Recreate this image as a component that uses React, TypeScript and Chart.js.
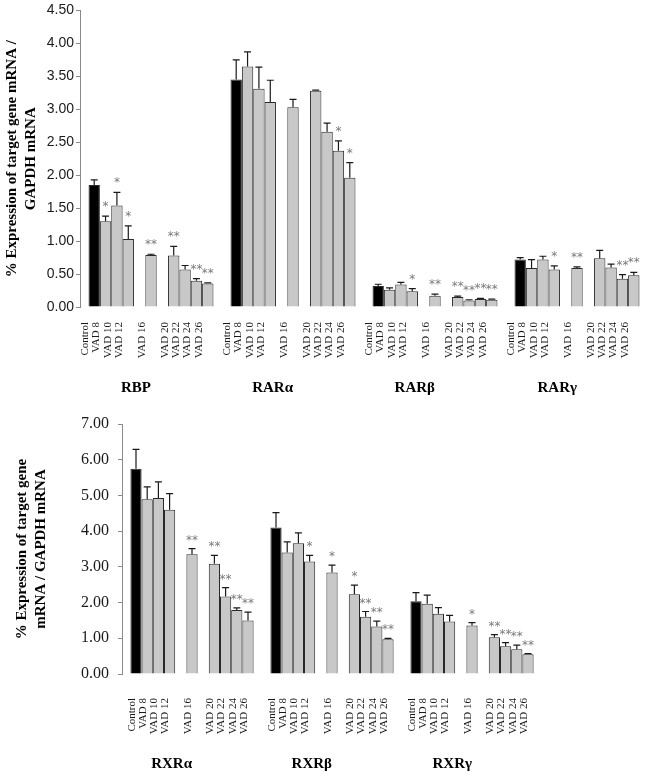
import React, { useEffect, useRef } from 'react';
import { Chart, registerables } from 'chart.js';

Chart.register(...registerables);

// ---------- data ----------
const slotLabels = ['Control', 'VAD 8', 'VAD 10', 'VAD 12', '', 'VAD 16', '', 'VAD 20', 'VAD 22', 'VAD 24', 'VAD 26'];

const topGenes = ['RBP', 'RARα', 'RARβ', 'RARγ'];
const rbpValues = [1.85, 1.30, 1.54, 1.03, null, 0.79, null, 0.78, 0.57, 0.40, 0.355];
const rbpErrors = [0.08, 0.08, 0.20, 0.20, null, 0.01, null, 0.14, 0.06, 0.03, 0.01];
const rbpSig = ['', '*', '*', '*', '', '**', '', '**', '', '**', '**'];
const raraValues = [3.45, 3.65, 3.31, 3.11, null, 3.03, null, 3.28, 2.66, 2.37, 1.96];
const raraErrors = [0.30, 0.22, 0.33, 0.33, null, 0.12, null, 0.01, 0.13, 0.15, 0.23];
const raraSig = ['', '', '', '', '', '', '', '', '', '*', '*'];
const rarbValues = [0.32, 0.26, 0.34, 0.24, null, 0.17, null, 0.15, 0.10, 0.12, 0.11];
const rarbErrors = [0.025, 0.03, 0.035, 0.04, null, 0.025, null, 0.015, 0.01, 0.01, 0.01];
const rarbSig = ['', '', '', '*', '', '**', '', '**', '**', '**', '**'];
const rargValues = [0.72, 0.59, 0.72, 0.57, null, 0.59, null, 0.74, 0.60, 0.43, 0.48];
const rargErrors = [0.03, 0.13, 0.05, 0.055, null, 0.02, null, 0.12, 0.05, 0.06, 0.045];
const rargSig = ['', '', '', '*', '', '**', '', '', '', '**', '**'];

const bottomGenes = ['RXRα', 'RXRβ', 'RXRγ'];
const rxraValues = [5.75, 4.89, 4.93, 4.60, null, 3.35, null, 3.09, 2.17, 1.79, 1.50];
const rxraErrors = [0.54, 0.35, 0.45, 0.45, null, 0.16, null, 0.23, 0.25, 0.06, 0.23];
const rxraSig = ['', '', '', '', '', '**', '', '**', '**', '**', '**'];
const rxrbValues = [4.10, 3.40, 3.66, 3.15, null, 2.84, null, 2.23, 1.60, 1.33, 0.97];
const rxrbErrors = [0.42, 0.30, 0.29, 0.17, null, 0.21, null, 0.26, 0.15, 0.15, 0.03];
const rxrbSig = ['', '', '', '*', '', '*', '', '*', '**', '**', '**'];
const rxrgValues = [2.04, 1.97, 1.69, 1.47, null, 1.36, null, 1.03, 0.78, 0.69, 0.55];
const rxrgErrors = [0.24, 0.24, 0.17, 0.17, null, 0.08, null, 0.07, 0.10, 0.12, 0.02];
const rxrgSig = ['', '', '', '', '', '*', '', '**', '**', '**', '**'];

const topYTicks = { max: 4.5, step: 0.5 };
const bottomYTicks = { max: 7, step: 1 };
const topTitle = ['% Expression of target gene mRNA /', 'GAPDH mRNA'];
const bottomTitle = ['% Expression of target gene', 'mRNA / GAPDH mRNA'];

// ---------- chart ----------
type Panel = {
  genes: string[];
  values: (number | null)[][];
  errors: (number | null)[][];
  sigs: string[][];
  yMax: number;
  yStep: number;
  title: string[];
  width: number;
  height: number;
  axisWidth: number;
  xHeight: number;
  padTop: number;
  padRight: number;
  titlePad: number;
  tickFont: any;
  tickPad: number;
  labelGap: number;
  labelShift: number;
  genePad: number;
  sigGap: number;
};

function makeAnnot(p: Panel) {
  return {
    id: 'annot',
    afterDatasetsDraw(chart: any) {
      const { ctx, chartArea, scales } = chart;
      const y = scales.y;
      ctx.save();
      chart.data.datasets.forEach((_ds: any, si: number) => {
        const meta = chart.getDatasetMeta(si);
        meta.data.forEach((el: any, gi: number) => {
          const v = p.values[gi][si];
          if (v == null) return;
          const e = p.errors[gi][si] || 0;
          const yb = y.getPixelForValue(v);
          const yt = y.getPixelForValue(v + e);
          ctx.strokeStyle = '#1a1a1a';
          ctx.lineWidth = 1.2;
          ctx.beginPath();
          ctx.moveTo(el.x, yb);
          ctx.lineTo(el.x, yt);
          ctx.moveTo(el.x - 3.5, yt);
          ctx.lineTo(el.x + 3.5, yt);
          ctx.stroke();
          const s = p.sigs[gi][si];
          if (s) {
            ctx.fillStyle = '#7a7a7a';
            ctx.font = '12px "DejaVu Sans"';
            ctx.textAlign = 'center';
            ctx.textBaseline = 'alphabetic';
            ctx.fillText(s, el.x, yt - p.sigGap);
          }
        });
      });
      ctx.font = '11px "Liberation Serif"';
      ctx.fillStyle = '#1a1a1a';
      ctx.textAlign = 'right';
      ctx.textBaseline = 'middle';
      chart.data.datasets.forEach((_ds: any, si: number) => {
        const lab = slotLabels[si];
        if (!lab) return;
        chart.getDatasetMeta(si).data.forEach((el: any) => {
          ctx.save();
          ctx.translate(el.x + p.labelShift, chartArea.bottom + p.labelGap);
          ctx.rotate(-Math.PI / 2);
          ctx.fillText(lab, 0, 0);
          ctx.restore();
        });
      });
      ctx.restore();
    },
  };
}

function BarPanel({ p }: { p: Panel }) {
  const ref = useRef<HTMLCanvasElement | null>(null);
  useEffect(() => {
    if (!ref.current) return;
    const datasets = slotLabels.map((lab, si) => ({
      label: lab,
      data: p.values.map((arr) => arr[si]),
      backgroundColor: si === 0 ? '#000000' : '#c8c8c8',
      borderColor: '#2a2a2a',
      borderWidth: 1,
      barPercentage: 1,
      categoryPercentage: 0.88,
    }));
    const chart = new Chart(ref.current, {
      type: 'bar',
      data: { labels: p.genes, datasets: datasets as any },
      options: {
        animation: false,
        responsive: false,
        maintainAspectRatio: false,
        layout: { padding: { top: p.padTop, right: p.padRight, left: 0, bottom: 0 } },
        plugins: { legend: { display: false }, tooltip: { enabled: false } },
        scales: {
          x: {
            grid: { display: false },
            border: { display: false },
            ticks: {
              maxRotation: 0,
              autoSkip: false,
              align: 'end',
              padding: p.genePad,
              color: '#000',
              font: { family: 'Liberation Serif', size: 15, weight: 'bold' },
            },
            afterFit: (s: any) => {
              s.height = p.xHeight;
            },
          },
          y: {
            min: 0,
            max: p.yMax,
            grid: { drawOnChartArea: false, drawTicks: true, tickLength: 4, color: '#8a8a8a' },
            border: { color: '#8a8a8a' },
            ticks: {
              stepSize: p.yStep,
              padding: p.tickPad,
              color: '#1a1a1a',
              font: p.tickFont,
              callback: (v: any) => Number(v).toFixed(2),
            },
            title: {
              display: true,
              text: p.title,
              color: '#000',
              padding: { top: p.titlePad, bottom: 0 },
              font: { family: 'Liberation Serif', size: 15, weight: 'bold', lineHeight: 1.3 },
            },
            afterFit: (s: any) => {
              s.width = p.axisWidth;
            },
          },
        },
      } as any,
      plugins: [makeAnnot(p)],
    });
    return () => chart.destroy();
  }, [p]);
  return <canvas ref={ref} width={p.width} height={p.height} style={{ display: 'block' }} />;
}

const topPanel: Panel = {
  genes: topGenes,
  values: [rbpValues, raraValues, rarbValues, rargValues],
  errors: [rbpErrors, raraErrors, rarbErrors, rargErrors],
  sigs: [rbpSig, raraSig, rarbSig, rargSig],
  yMax: topYTicks.max,
  yStep: topYTicks.step,
  title: topTitle,
  width: 649,
  height: 400,
  axisWidth: 80,
  xHeight: 93,
  padTop: 10,
  padRight: 1,
  titlePad: 2,
  tickFont: { family: 'Liberation Sans', size: 14 },
  tickPad: 2,
  labelGap: 15,
  labelShift: -9,
  genePad: 64,
  sigGap: 6,
};

const bottomPanel: Panel = {
  genes: bottomGenes,
  values: [rxraValues, rxrbValues, rxrgValues],
  errors: [rxraErrors, rxrbErrors, rxrgErrors],
  sigs: [rxraSig, rxrbSig, rxrgSig],
  yMax: bottomYTicks.max,
  yStep: bottomYTicks.step,
  title: bottomTitle,
  width: 649,
  height: 376,
  axisWidth: 122,
  xHeight: 102,
  padTop: 24,
  padRight: 107,
  titlePad: 12,
  tickFont: { family: 'Liberation Serif', size: 16 },
  tickPad: 9,
  labelGap: 24,
  labelShift: -4,
  genePad: 73,
  sigGap: 5,
};

export default function App() {
  return (
    <div style={{ position: 'absolute', left: 0, top: 0, width: 649, height: 776, background: '#fff' }}>
      <BarPanel p={topPanel} />
      <BarPanel p={bottomPanel} />
    </div>
  );
}
